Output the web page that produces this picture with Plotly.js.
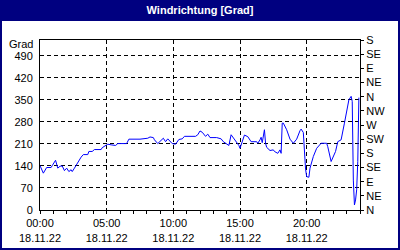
<!DOCTYPE html>
<html>
<head>
<meta charset="utf-8">
<script src="https://cdn.plot.ly/plotly-3.0.1.min.js"></script>
<style>
html,body{margin:0;padding:0;background:#000080;}
#chart{width:400px;height:250px;}
</style>
</head>
<body>
<div id="chart"></div>
<script>
const day = '2022-11-18';
const times = ['00:00','00:15','00:30','00:50','00:55','01:10','01:20','01:30','01:40','01:50',
'02:00','02:10','02:20','02:25','02:35','02:45','02:55','03:05','03:15','03:35',
'03:40','03:55','04:05','04:35','04:40','05:00','05:05','05:20','05:40','05:50',
'06:30','06:40','07:15','07:30','08:05','08:15','08:30','08:35','08:50','09:05',
'09:15','09:25','09:35','09:55','10:10','10:25','10:40','10:50','11:15','11:40',
'11:50','12:00','12:10','12:25','12:35','12:45','13:15','13:35','13:45','14:00',
'14:10','14:20','14:30','14:45','14:55','15:00','15:10','15:20','15:35','15:50',
'16:15','16:20','16:30','16:35','16:40','16:50','16:55','17:00','17:15','17:30',
'17:35','17:50','18:00','18:05','18:10','18:15','18:30','18:45','19:00','19:15',
'19:30','19:35','19:45','19:50','19:55','20:00','20:10','20:15','20:30','20:45',
'21:05','21:30','21:35','21:50','22:10','22:20','22:35','22:50','23:00','23:10',
'23:20','23:25','23:30','23:35','23:40','23:45','23:50','23:55'];
const direction = [141,117,135,135,141,158,133,139,140,125,
133,122,128,122,133,145,160,168,176,176,
186,186,192,192,198,206,209,207,205,211,
211,225,225,225,228,232,230,223,211,220,
228,217,226,211,209,224,226,234,234,234,
239,251,247,234,241,230,230,226,217,209,
205,239,230,217,205,196,217,238,233,217,
217,212,223,231,214,255,212,199,189,191,
186,180,191,180,276,276,255,225,212,225,
252,257,246,165,130,106,104,133,170,196,
212,212,201,154,186,217,223,276,313,350,
361,345,95,16,32,64,154,357];
const xTickTimes = ['00:00','05:00','10:00','15:00','20:00'];
const xTickLabels = ['00:00<br>18.11.22','05:00<br>18.11.22','10:00<br>18.11.22','15:00<br>18.11.22','20:00<br>18.11.22'];
const gradTicks = [0,70,140,210,280,350,420,490];
const dirTicks = [0,45,90,135,180,225,270,315,360,405,450,495,540];
const dirLabels = ['N','NE','E','SE','S','SW','W','NW','N','NE','E','SE','S'];

const font = {family:'Liberation Sans, Arial, sans-serif', size:11, color:'#000'};

const trace = {
  x: times.map(t => day + ' ' + t + ':00'),
  y: direction,
  type:'scatter', mode:'lines',
  line:{color:'#0000ff', width:1},
  hoverinfo:'skip'
};
const trace2 = {x:[day+' 00:00:00'], y:[0], yaxis:'y2', type:'scatter', mode:'markers',
  marker:{opacity:0}, showlegend:false, hoverinfo:'skip'};

const layout = {
  width:400, height:250,
  margin:{l:40, r:40, t:40, b:40},
  paper_bgcolor:'#000080',
  plot_bgcolor:'#ffffff',
  showlegend:false,
  font: font,
  title:{text:'<b>Windrichtung [Grad]</b>', x:0.5, xanchor:'center', y:0.96, yanchor:'middle',
    font:{family:'Liberation Sans, Arial, sans-serif', size:11, color:'#ffffff'}},
  xaxis:{
    type:'date',
    range:[day+' 00:00:00','2022-11-19 00:00:00'],
    tickmode:'array',
    tickvals: xTickTimes.map(t => day + ' ' + t + ':00'),
    ticktext: xTickLabels,
    ticks:'outside', ticklen:3, tickcolor:'#000',
    minor:{ticks:'outside', ticklen:3, dtick:3600000, tick0:day+' 00:00:00', tickcolor:'#000', showgrid:false},
    showgrid:true, gridcolor:'#000', gridwidth:1, griddash:'4px,3px',
    showline:true, linecolor:'#000', linewidth:1, mirror:true,
    zeroline:false, tickfont:font
  },
  yaxis:{
    range:[0,540],
    tickmode:'array', tickvals:gradTicks,
    ticks:'', ticklabelstandoff:4,
    showgrid:true, gridcolor:'#000', gridwidth:1, griddash:'4px,3px',
    showline:true, linecolor:'#000', linewidth:1,
    zeroline:false, tickfont:font
  },
  yaxis2:{
    overlaying:'y', side:'right', range:[0,540],
    tickmode:'array', tickvals:dirTicks, ticktext:dirLabels,
    ticks:'outside', ticklen:3, tickcolor:'#000',
    showgrid:false, showline:true, linecolor:'#000', linewidth:1,
    zeroline:false, tickfont:font
  },
  shapes:[{type:'rect', xref:'paper', yref:'paper', x0:-0.11875, x1:1.11875, y0:-0.22353, y1:1.11176,
    fillcolor:'#ffffff', line:{width:0}, layer:'below'}],
  annotations:[{text:'Grad', xref:'paper', yref:'paper', x:0, y:0.976, xanchor:'right', yanchor:'middle',
    xshift:-5, showarrow:false, font:font}]
};
Plotly.newPlot('chart',[trace,trace2],layout,{staticPlot:true});
</script>
</body>
</html>
